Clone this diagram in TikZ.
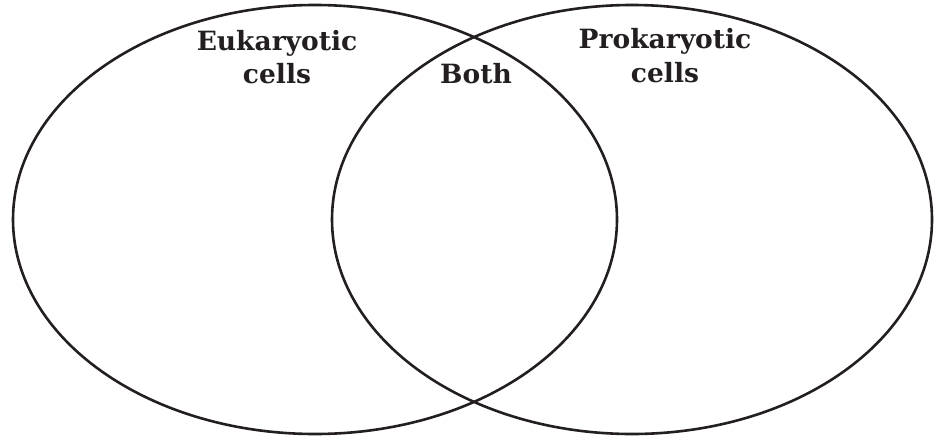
\documentclass[tikz,border=0pt]{standalone}
\usepackage{fontspec}
\setmainfont{DejaVu Serif}
\usetikzlibrary{shapes.geometric}
\definecolor{ink}{HTML}{231F20}
\tikzset{
  setring/.style={ellipse, draw=ink, line width=2.6pt, inner sep=0pt, outer sep=0pt},
  label/.style={anchor=base, inner sep=0pt, text=ink, font=\fontsize{26.5}{30}\selectfont\bfseries}
}
\begin{document}
\begin{tikzpicture}[x=1pt,y=-1pt]
\useasboundingbox (0,0) rectangle (936,439);
\node[setring, minimum width=604pt, minimum height=429pt] (euk) at (315,219.5) {};
\node[setring, minimum width=600pt, minimum height=429pt] (pro) at (632,219.5) {};
\node[label] (eukA) at (277,50) {Eukaryotic};
\node[label] (eukB) at (277,83) {cells};
\node[label] (both) at (476,83) {Both};
\node[label] (proA) at (665,48) {Prokaryotic};
\node[label] (proB) at (665,82) {cells};
\end{tikzpicture}
\end{document}
